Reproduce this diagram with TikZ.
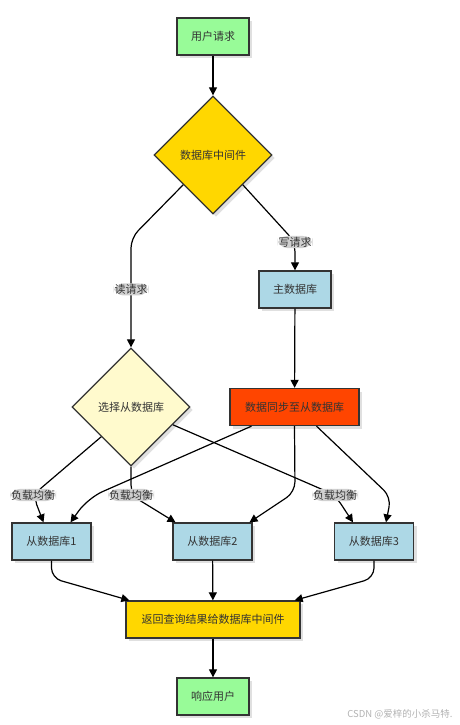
\documentclass[tikz,border=0pt]{standalone}
\usepackage{fontspec}
\setmainfont{Noto Sans CJK SC}
\usepackage{tikz}
\usetikzlibrary{shapes.geometric, arrows.meta, shadows, calc}

\definecolor{pgreen}{HTML}{98FB98}
\definecolor{gold}{HTML}{FFD700}
\definecolor{lemon}{HTML}{FFFACD}
\definecolor{lblue}{HTML}{ADD8E6}
\definecolor{ored}{HTML}{FF4500}
\definecolor{edgegray}{HTML}{333333}
\definecolor{tagray}{HTML}{D0D0D0}

\tikzset{
  base/.style={draw=edgegray, line width=1.3pt, text=edgegray,
    font=\fontsize{11}{13}\selectfont,
    drop shadow={shadow xshift=3pt, shadow yshift=-3pt, fill=black!12, opacity=1}},
  box/.style={base, rectangle, minimum height=37pt},
  rhombus/.style={base, diamond, minimum width=118pt, minimum height=118pt, inner sep=0pt},
  tag/.style={fill=tagray, inner sep=1pt, text=edgegray, font=\fontsize{11}{13}\selectfont},
  link/.style={->, line width=1.2pt, rounded corners=10pt},
}

\begin{document}
\begin{tikzpicture}[x=1pt, y=-1pt, >={Triangle[length=8pt, width=8pt]}]
\useasboundingbox (0,0) rectangle (459,725);
%nodes
\node[box, fill=pgreen, minimum width=72pt] (req) at (213, 36.5) {用户请求};
\node[rhombus, fill=gold] (mid) at (213, 155) {数据库中间件};
\node[box, fill=lblue, minimum width=72pt] (master) at (295, 289.5) {主数据库};
\node[rhombus, fill=lemon] (sel) at (131, 407) {选择从数据库};
\node[box, fill=ored, minimum width=129pt] (sync) at (294.5, 407) {数据同步至从数据库};
\node[box, fill=lblue, minimum width=79pt] (s1) at (51.5, 541.5) {从数据库1};
\node[box, fill=lblue, minimum width=79pt] (s2) at (212.5, 541.5) {从数据库2};
\node[box, fill=lblue, minimum width=79pt] (s3) at (374, 541.5) {从数据库3};
\node[box, fill=gold, minimum width=174pt] (ret) at (213, 619.5) {返回查询结果给数据库中间件};
\node[box, fill=pgreen, minimum width=72pt] (resp) at (213, 696.5) {响应用户};
\node[text=black!30, font=\fontsize{9.5}{11}\selectfont, anchor=east] (mark) at (456, 714) {CSDN @爱梓的小杀马特.};

%connections
\draw[link] (req) -- (mid);
\draw[link] (mid.south east) -- (295, 242) node[tag]{写请求} -- (master);
\draw[link] (mid.south west) -- (131, 238) -- node[tag, pos=0.47]{读请求} (sel);
\draw[link] (master) -- (sync);
\draw[link] (sel.south west) -- (33, 495) node[tag]{负载均衡} -- ([xshift=-8pt]s1.north);
\draw[link] (sel.south) -- (131, 495) node[tag]{负载均衡} -- ([xshift=-37pt]s2.north);
\draw[link] (sel.-23) -- (335, 495) node[tag]{负载均衡} -- ([xshift=-21pt]s3.north);
\draw[link, rounded corners=16pt] ([xshift=-43pt]sync.south) -- (88, 498) -- ([xshift=19pt]s1.north);
\draw[link] (sync.south) -- (295, 492) -- ([xshift=37pt]s2.north);
\draw[link] ([xshift=22pt]sync.south) -- (391, 497) -- ([xshift=12pt]s3.north);
\draw[link] (s1.south) -- (51.5, 578) -- ([xshift=4pt]ret.north west);
\draw[link] (s2) -- (ret);
\draw[link] (s3.south) -- (374, 578) -- ([xshift=-6pt]ret.north east);
\draw[link] (ret) -- (resp);
\end{tikzpicture}
\end{document}
